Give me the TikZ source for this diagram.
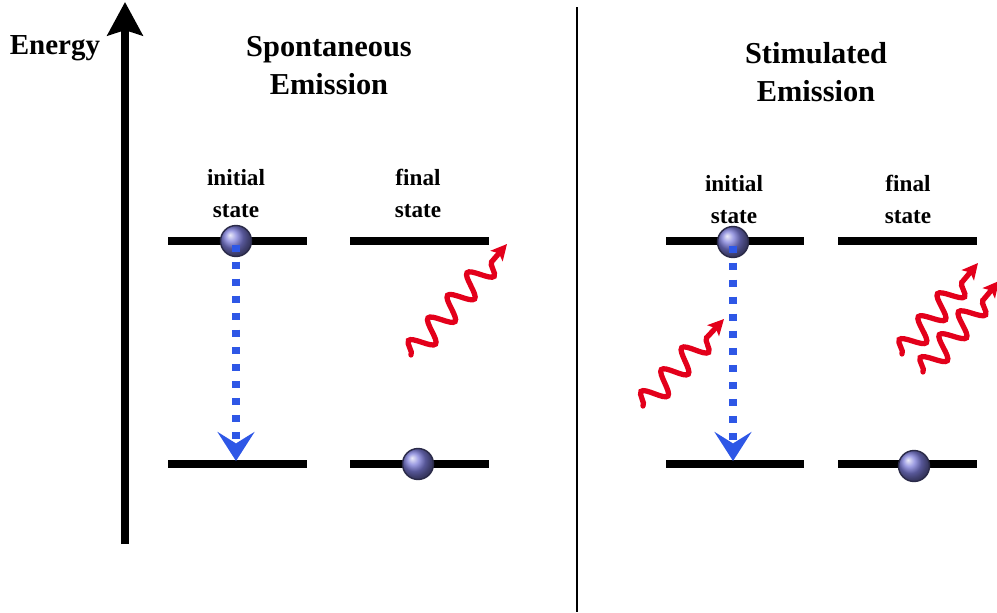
\documentclass[tikz,border=0pt]{standalone}
\usepackage{fontspec}
\setmainfont{Liberation Serif}
\usetikzlibrary{arrows.meta, positioning, decorations.pathmorphing, shadings}
\definecolor{photonRed}{HTML}{E3001B}
\definecolor{dropBlue}{HTML}{2E57E6}
\definecolor{ballBody}{HTML}{7C7CD8}
\definecolor{ballRim}{HTML}{2A2A48}

\begin{document}
\begin{tikzpicture}[x=0.02cm, y=-0.02cm,
    title/.style={font=\fontsize{17.3}{21.5}\selectfont\bfseries, align=center, anchor=north, inner sep=0pt},
    tag/.style={font=\fontsize{13.2}{18}\selectfont\bfseries, align=center, anchor=north, inner sep=0pt},
    level/.style={line width=4.5pt},
    electron/.style={circle, minimum size=0.62cm, inner sep=0pt, draw=ballRim, line width=0.8pt,
      shading=ball, ball color=ballBody},
    decay/.style={dropBlue, line width=4.4pt, dash pattern=on 4.2pt off 5.5pt, shorten <=2pt,
      -{Stealth[length=16.5pt, width=21pt, inset=6.5pt]}},
    photon/.style={photonRed, line width=3pt, line cap=round, decorate,
      decoration={snake, amplitude=6.5pt, segment length=17pt, post length=12pt},
      -{Stealth[length=9pt, width=9pt, inset=2pt]}}]
    \useasboundingbox (0,0) rectangle (997,612);

    % --- energy axis and divider ---
    \node[font=\fontsize{16.5}{20}\selectfont\bfseries, anchor=north, inner sep=0pt] (energy) at (55,35) {Energy};
    \coordinate (axisFoot) at (125,544);
    \coordinate (axisTop) at (125,2);
    \draw[line width=4pt, -{Stealth[length=19pt, width=20pt, inset=3pt]}] (axisFoot) -- (axisTop);
    \draw[line width=1.2pt] (577,7) -- (577,612);

    % --- spontaneous emission ---
    \node[title] (spTitle) at (329,36) {Spontaneous\\Emission};
    \node[tag] (spIni) at (236,169) {initial\\state};
    \node[tag] (spFin) at (418,169) {final\\state};
    \draw[level] (168,241) -- (307,241);
    \draw[level] (350,241) -- (489,241);
    \draw[level] (168,464) -- (307,464);
    \draw[level] (350,464) -- (489,464);
    \node[electron] (spUp) at (236,241) {};
    \node[electron] (spDown) at (418,464) {};
    \coordinate (spDrop) at (236,461);
    \draw[decay] (spUp.center) -- (spDrop);
    \coordinate (spOut0) at (411,355);
    \coordinate (spOut1) at (507,244);
    \draw[photon] (spOut0) -- (spOut1);

    % --- stimulated emission ---
    \node[title] (stTitle) at (816,42) {Stimulated\\Emission};
    \node[tag] (stIni) at (734,175) {initial\\state};
    \node[tag] (stFin) at (908,175) {final\\state};
    \draw[level] (666,241) -- (804,241);
    \draw[level] (838,241) -- (977,241);
    \draw[level] (666,464) -- (804,464);
    \draw[level] (838,464) -- (977,464);
    \node[electron] (stUp) at (733,242) {};
    \node[electron] (stDown) at (914,466) {};
    \coordinate (stDrop) at (733,461);
    \coordinate (stIn0) at (643,406);
    \coordinate (stIn1) at (724,319);
    \draw[photon] (stIn0) -- (stIn1);
    \draw[decay] (stUp.center) -- (stDrop);
    \coordinate (stOutA0) at (902,354);
    \coordinate (stOutA1) at (978,263);
    \coordinate (stOutB0) at (923,372);
    \coordinate (stOutB1) at (999,281);
    \draw[photon] (stOutA0) -- (stOutA1);
    \draw[photon] (stOutB0) -- (stOutB1);
\end{tikzpicture}
\end{document}
